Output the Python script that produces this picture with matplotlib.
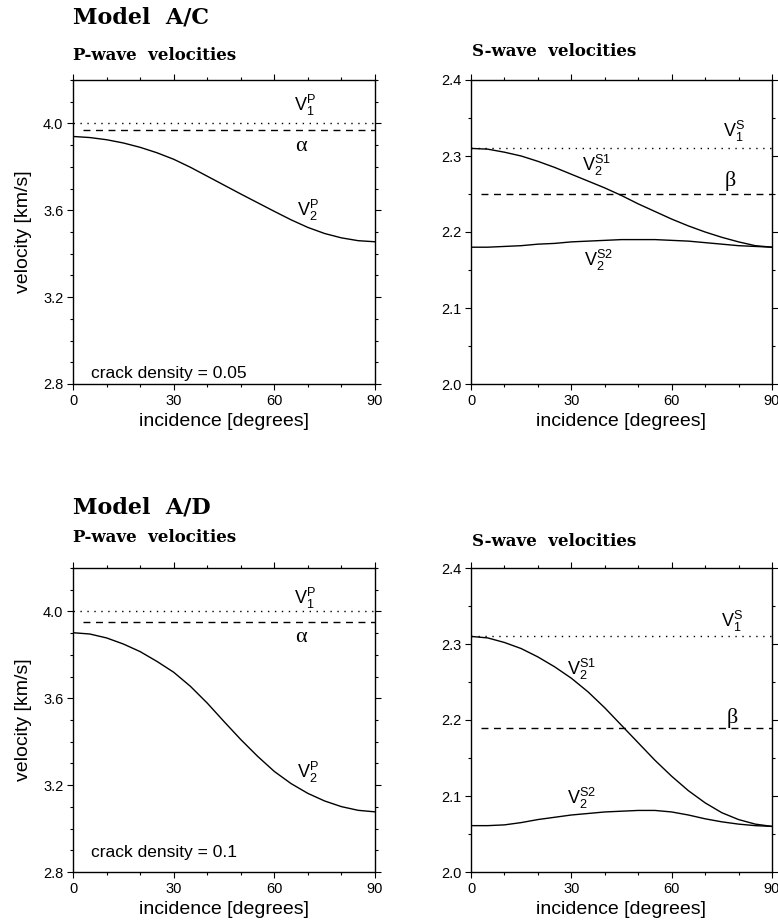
import numpy as np
import matplotlib
matplotlib.use('Agg')
import matplotlib.pyplot as plt
from matplotlib.ticker import MultipleLocator

plt.rcParams['font.family'] = ['Liberation Sans', 'DejaVu Sans']
plt.rcParams['mathtext.default'] = 'regular'

# incidence angle, degrees
inc = [0, 5, 10, 15, 20, 25, 30, 35, 40, 45, 50, 55, 60, 65, 70, 75, 80, 85, 90]

# Model A/C, crack density 0.05
ac_v1p = 4.00
ac_alpha = 3.97
ac_v2p = [3.940, 3.935, 3.925, 3.910, 3.890, 3.865, 3.835, 3.798, 3.757,
          3.716, 3.675, 3.635, 3.595, 3.556, 3.521, 3.493, 3.473, 3.460, 3.455]
ac_v1s = 2.31
ac_beta = 2.25
ac_v2s1 = [2.310, 2.309, 2.305, 2.300, 2.293, 2.285, 2.276, 2.267, 2.258,
           2.248, 2.237, 2.227, 2.217, 2.208, 2.200, 2.193, 2.187, 2.182, 2.180]
ac_v2s2 = [2.180, 2.180, 2.181, 2.182, 2.184, 2.185, 2.187, 2.188, 2.189,
           2.190, 2.190, 2.190, 2.189, 2.188, 2.186, 2.184, 2.182, 2.181, 2.180]

# Model A/D, crack density 0.1
ad_v1p = 4.00
ad_alpha = 3.95
ad_v2p = [3.902, 3.896, 3.878, 3.850, 3.815, 3.770, 3.720, 3.655, 3.578,
          3.493, 3.410, 3.333, 3.263, 3.207, 3.162, 3.127, 3.101, 3.084, 3.077]
ad_v1s = 2.31
ad_beta = 2.19
ad_v2s1 = [2.310, 2.308, 2.302, 2.294, 2.283, 2.270, 2.255, 2.237, 2.216,
           2.193, 2.170, 2.147, 2.126, 2.107, 2.091, 2.078, 2.069, 2.063, 2.060]
ad_v2s2 = [2.061, 2.061, 2.062, 2.065, 2.069, 2.072, 2.075, 2.077, 2.079,
           2.080, 2.081, 2.081, 2.079, 2.075, 2.070, 2.066, 2.063, 2.061, 2.060]

W, H = 778, 922
fig = plt.figure(figsize=(W / 100, H / 100), dpi=100)

def make_ax(left, top, right, bottom):
    return fig.add_axes([left / W, 1 - bottom / H, (right - left) / W, (bottom - top) / H])

def style(ax, ylim, major, minor, ylabel):
    ax.set_xlim(0, 90)
    ax.set_ylim(*ylim)
    ax.xaxis.set_major_locator(MultipleLocator(30))
    ax.xaxis.set_minor_locator(MultipleLocator(10))
    ax.yaxis.set_major_locator(MultipleLocator(major))
    ax.yaxis.set_minor_locator(MultipleLocator(minor))
    ax.tick_params(which='both', direction='out', top=True, right=True, width=0.8,
                   labelsize=10.5, pad=3)
    ax.tick_params(which='major', length=4)
    ax.tick_params(which='minor', length=2.5)
    for s in ax.spines.values():
        s.set_linewidth(1.0)
    ax.set_xlabel('incidence [degrees]', fontsize=14, labelpad=4)
    if ylabel:
        ax.set_ylabel('velocity [km/s]', fontsize=14, labelpad=8)

lab = dict(fontsize=13, ha='center', va='center')
greek = dict(fontsize=16, ha='center', va='center', family='Liberation Serif')
dots = (0, (1, 4))
dashes = (0, (5, 4))

def p_panel(ax, v1, alpha, v2, dens, pos):
    ax.hlines(v1, 0, 90, colors='k', linestyles=dots, lw=1)
    ax.hlines(alpha, 3, 90, colors='k', linestyles=dashes, lw=1)
    ax.plot(inc, v2, color='k', lw=1)
    style(ax, (2.8, 4.2), 0.4, 0.1, True)
    ax.text(pos[0][0], pos[0][1], '$V_1^P$', **lab)
    ax.text(pos[1][0], pos[1][1], 'α', **greek)
    ax.text(pos[2][0], pos[2][1], '$V_2^P$', **lab)
    ax.text(5.5, pos[3], 'crack density = ' + dens, fontsize=12.5, va='center')

def s_panel(ax, v1, beta, v2a, v2b, pos):
    ax.hlines(v1, 0, 90, colors='k', linestyles=dots, lw=1)
    ax.hlines(beta, 3, 90, colors='k', linestyles=dashes, lw=1)
    ax.plot(inc, v2a, color='k', lw=1)
    ax.plot(inc, v2b, color='k', lw=1)
    style(ax, (2.0, 2.4), 0.1, 0.05, False)
    ax.text(pos[0][0], pos[0][1], '$V_1^S$', **lab)
    ax.text(pos[1][0], pos[1][1], '$V_2^{S1}$', **lab)
    ax.text(pos[2][0], pos[2][1], 'β', **greek)
    ax.text(pos[3][0], pos[3][1], '$V_2^{S2}$', **lab)

ax1 = make_ax(73, 80, 375, 384)
ax2 = make_ax(471, 80, 772, 384)
ax3 = make_ax(73, 568, 375, 872)
ax4 = make_ax(471, 568, 772, 872)

p_panel(ax1, ac_v1p, ac_alpha, ac_v2p, '0.05', [(69, 4.085), (68, 3.895), (70, 3.60), 2.85])
s_panel(ax2, ac_v1s, ac_beta, ac_v2s1, ac_v2s2, [(78.5, 2.332), (37.5, 2.287), (77.5, 2.267), (38, 2.163)])
p_panel(ax3, ad_v1p, ad_alpha, ad_v2p, '0.1', [(69, 4.06), (68, 3.88), (70, 3.26), 2.89])
s_panel(ax4, ad_v1s, ad_beta, ad_v2s1, ad_v2s2, [(78, 2.330), (33, 2.267), (78, 2.203), (33, 2.097)])

tf = dict(family='DejaVu Serif', weight='bold', va='center', ha='left')
fig.text(73 / W, 1 - 18 / H, 'Model  A/C', fontsize=16, **tf)
fig.text(73 / W, 1 - 55 / H, 'P-wave  velocities', fontsize=12, **tf)
fig.text(472 / W, 1 - 52 / H, 'S-wave  velocities', fontsize=12, **tf)
fig.text(73 / W, 1 - 508 / H, 'Model  A/D', fontsize=16, **tf)
fig.text(73 / W, 1 - 537 / H, 'P-wave  velocities', fontsize=12, **tf)
fig.text(472 / W, 1 - 541 / H, 'S-wave  velocities', fontsize=12, **tf)

fig.savefig('out.png', dpi=100)
